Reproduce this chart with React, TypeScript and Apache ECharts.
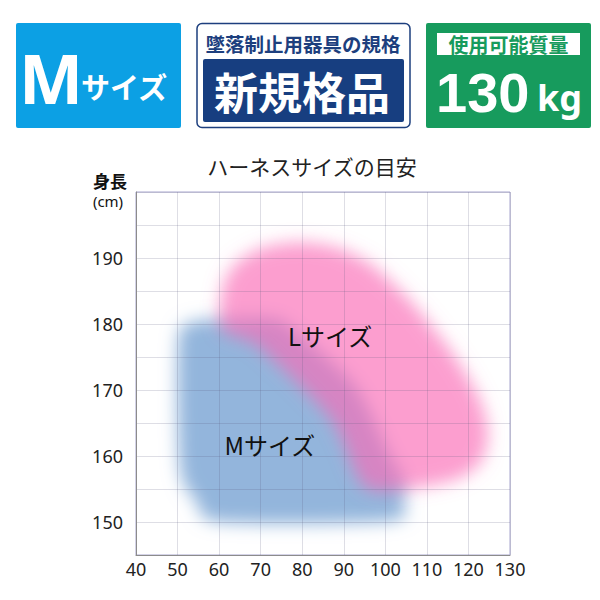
import React, { useEffect, useRef } from "react";
import * as echarts from "echarts";

// Axis ranges (weight kg on x, height cm on y)
const weightMin = 40;
const weightMax = 130;
const weightStep = 10;
const heightMin = 145;
const heightMax = 200;
const heightStep = 5;

// M size region outline (weight kg, height cm)
const mWeight = [53.0, 71.8, 77.5, 92.5, 101.1, 104.7, 104.3, 101.6, 60.2, 54.4, 50.6, 50.1];
const mHeight = [180.2, 180.9, 179.4, 170.8, 160.2, 156.1, 153.3, 150.2, 150.0, 153.3, 158.2, 176.1];

// L size region outline (weight kg, height cm)
const lWeight = [60.7, 63.8, 70.3, 79.5, 88.6, 96.8, 105.9, 115.6, 122.3, 124.7, 123.3, 118.0, 108.3, 95.1, 87.0, 69.5, 60.7];
const lHeight = [185.2, 189.0, 191.5, 192.4, 191.5, 188.9, 183.6, 176.1, 169.2, 163.9, 159.4, 156.7, 155.3, 155.3, 165.5, 176.5, 179.1];

// Region labels
const sizeNames = ["Mサイズ", "Lサイズ"];
const sizeLabelWeight = [72.2, 86.7];
const sizeLabelHeight = [161.8, 178.3];

const chartTitle = "ハーネスサイズの目安";
const yName = "身長";
const yUnit = "(cm)";

const JP = '"Noto Sans CJK JP", "Noto Sans", sans-serif';
const LAT = '"Noto Sans", "Noto Sans CJK JP", sans-serif';
const ARIAL = '"Liberation Sans", "Noto Sans", sans-serif';

const SHIFT = 700;

function smoothClosedPath(pts: number[][], dx: number, k = 0.8): string {
  const n = pts.length;
  let d = `M${pts[0][0] + dx} ${pts[0][1]}`;
  for (let i = 0; i < n; i++) {
    const p0 = pts[(i - 1 + n) % n];
    const p1 = pts[i];
    const p2 = pts[(i + 1) % n];
    const p3 = pts[(i + 2) % n];
    const c1x = p1[0] + ((p2[0] - p0[0]) * k) / 6;
    const c1y = p1[1] + ((p2[1] - p0[1]) * k) / 6;
    const c2x = p2[0] - ((p3[0] - p1[0]) * k) / 6;
    const c2y = p2[1] - ((p3[1] - p1[1]) * k) / 6;
    d += ` C${c1x + dx} ${c1y} ${c2x + dx} ${c2y} ${p2[0] + dx} ${p2[1]}`;
  }
  d += " Z";
  return d;
}

function blobSeries(xs: number[], ys: number[], fill: string, shadow: string, z: number) {
  return {
    type: "custom",
    coordinateSystem: "cartesian2d",
    clip: false,
    silent: true,
    z,
    data: [[xs[0], ys[0]]],
    renderItem: (_params: any, api: any) => {
      const pts = xs.map((x, i) => api.coord([x, ys[i]]));
      const minX = Math.min(...pts.map((p: number[]) => p[0]));
      const path =
        smoothClosedPath(pts, -SHIFT) +
        ` M${minX - SHIFT - 2500} ${pts[0][1]} L${minX - SHIFT - 2499} ${pts[0][1]} Z`;
      return {
        type: "path",
        shape: { pathData: path },
        style: {
          fill,
          shadowBlur: 17,
          shadowColor: shadow,
          shadowOffsetX: SHIFT,
          shadowOffsetY: 0,
        },
      };
    },
  };
}

export default function App() {
  const ref = useRef<HTMLDivElement>(null);
  useEffect(() => {
    if (!ref.current) return;
    const chart = echarts.init(ref.current, null, { renderer: "svg" });
    const option: any = {
      animation: false,
      backgroundColor: "#ffffff",
      grid: {
        left: 136,
        right: 90,
        top: 192,
        bottom: 45,
        show: true,
        borderColor: "#a9a6cf",
        borderWidth: 1,
        backgroundColor: "transparent",
      },
      xAxis: {
        type: "value",
        min: weightMin,
        max: weightMax,
        interval: weightStep,
        z: 3,
        axisLine: { show: true, lineStyle: { color: "#8c8c8c", width: 1 } },
        axisTick: { show: false },
        axisLabel: { fontSize: 18, color: "#222", fontFamily: LAT, margin: 5 },
        splitLine: { show: true, lineStyle: { color: "rgba(90,90,125,0.2)", width: 1 } },
      },
      yAxis: {
        type: "value",
        min: heightMin,
        max: heightMax,
        interval: heightStep,
        z: 3,
        axisLine: { show: true, lineStyle: { color: "#8c8c8c", width: 1 } },
        axisTick: { show: false },
        axisLabel: {
          fontSize: 18,
          color: "#222",
          fontFamily: LAT,
          margin: 13,
          formatter: (v: number) => (v % 10 === 0 && v < heightMax ? String(v) : ""),
        },
        splitLine: { show: true, lineStyle: { color: "rgba(90,90,125,0.2)", width: 1 } },
      },
      series: [
        blobSeries(mWeight, mHeight, "#93b5dc", "#93b5dc", 1),
        blobSeries(lWeight, lHeight, "#fa6bb5", "rgba(250,107,181,0.65)", 2),
        {
          type: "custom",
          coordinateSystem: "cartesian2d",
          silent: true,
          z: 5,
          data: sizeNames.map((_n, i) => [sizeLabelWeight[i], sizeLabelHeight[i]]),
          renderItem: (params: any, api: any) => {
            const p = api.coord([api.value(0), api.value(1)]);
            return {
              type: "text",
              style: {
                x: p[0],
                y: p[1],
                text: sizeNames[params.dataIndex],
                fill: "#111",
                font: `normal 24px ${JP}`,
                textAlign: "center",
                textVerticalAlign: "middle",
              },
            };
          },
        },
      ],
      graphic: [
        // chart title and axis name
        { type: "text", z: 10, style: { x: 312, y: 166, text: chartTitle, fill: "#222", font: `normal 21px ${JP}`, textAlign: "center", textVerticalAlign: "middle" } },
        { type: "text", z: 10, style: { x: 110, y: 180, text: yName, fill: "#111", font: `bold 17px ${JP}`, textAlign: "center", textVerticalAlign: "middle", lineHeight: 17 } },
        { type: "text", z: 10, style: { x: 108, y: 201, text: yUnit, fill: "#111", font: `normal 15px ${LAT}`, textAlign: "center", textVerticalAlign: "middle", lineHeight: 15 } },
        // blue badge
        { type: "rect", z: 10, shape: { x: 16, y: 23, width: 165, height: 105, r: 2 }, style: { fill: "#0ca0e4" } },
        { type: "text", z: 11, style: { x: 19, y: 77, text: "M", fill: "#fff", font: `bold 68px ${LAT}`, textAlign: "left", textVerticalAlign: "middle" } },
        { type: "text", z: 11, style: { x: 81, y: 86, text: "サイズ", fill: "#fff", font: `bold 29px ${JP}`, textAlign: "left", textVerticalAlign: "middle" } },
        // middle badge
        { type: "rect", z: 10, shape: { x: 197, y: 23.5, width: 213, height: 104, r: 5 }, style: { fill: "#fff", stroke: "#1d3f7e", lineWidth: 1.5 } },
        { type: "text", z: 11, style: { x: 303, y: 43.5, text: "墜落制止用器具の規格", fill: "#1d3f7e", font: `bold 19.5px ${JP}`, textAlign: "center", textVerticalAlign: "middle" } },
        { type: "rect", z: 11, shape: { x: 203, y: 59, width: 201, height: 63, r: 2 }, style: { fill: "#173e80" } },
        { type: "text", z: 12, style: { x: 302, y: 91, text: "新規格品", fill: "#fff", font: `bold 44px ${JP}`, textAlign: "center", textVerticalAlign: "middle" } },
        // green badge
        { type: "rect", z: 10, shape: { x: 426, y: 23, width: 165, height: 105, r: 2 }, style: { fill: "#179b5d" } },
        { type: "rect", z: 11, shape: { x: 437, y: 33, width: 143, height: 22 }, style: { fill: "#fff" } },
        { type: "text", z: 12, style: { x: 508.5, y: 44, text: "使用可能質量", fill: "#179b5d", font: `bold 20px ${JP}`, textAlign: "center", textVerticalAlign: "middle", lineHeight: 20 } },
        { type: "text", z: 12, style: { x: 436, y: 92, text: "130", fill: "#fff", font: `bold 56px ${ARIAL}`, textAlign: "left", textVerticalAlign: "middle", lineHeight: 44 } },
        { type: "text", z: 12, style: { x: 537, y: 97, text: "kg", fill: "#fff", font: `bold 36px ${LAT}`, textAlign: "left", textVerticalAlign: "middle", lineHeight: 32 } },
      ],
    };
    chart.setOption(option);
    return () => chart.dispose();
  }, []);
  return <div ref={ref} style={{ position: "absolute", left: 0, top: 0, width: 600, height: 600 }} />;
}
